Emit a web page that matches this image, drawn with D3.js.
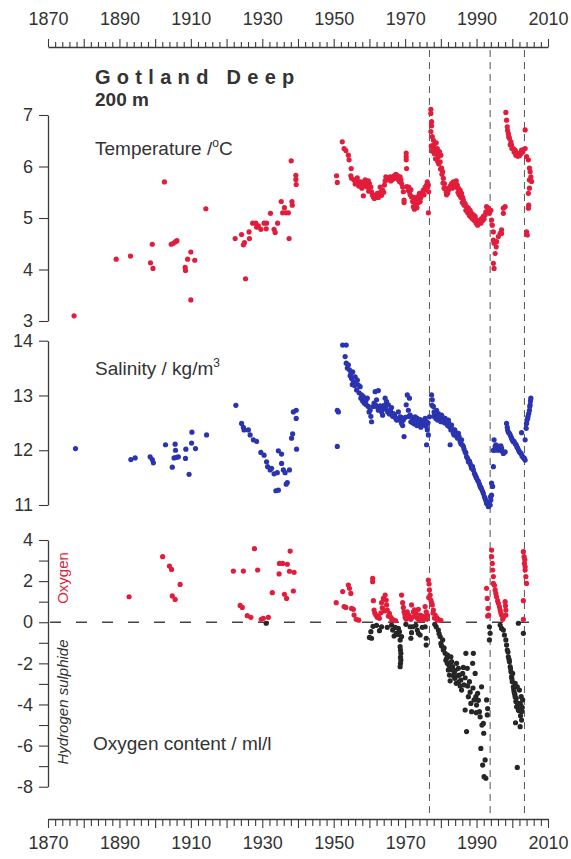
<!DOCTYPE html>
<html>
<head>
<meta charset="utf-8">
<script src="https://cdn.jsdelivr.net/npm/d3@7"></script>
<style>
    body { margin: 0; background: #fff; }
    svg text { font-family: 'Liberation Sans', Arial, sans-serif; fill: #333; }
</style>
</head>
<body>
<div id="viz"></div>
<script>
// [year, value]
const temperature = [
    [1877.3,3.10],[1889.1,4.20],[1893.1,4.26],[1898.7,4.13],[1899.2,4.49],[1899.4,4.02],[1902.6,5.70],[1904.5,4.49],
    [1905.1,4.51],[1905.7,4.54],[1906.1,4.56],[1908.4,4.04],[1908.5,3.98],[1909.1,4.20],[1910.0,4.34],[1911.1,4.18],
    [1910.0,3.41],[1914.2,5.18],[1922.4,4.60],[1924.2,4.68],[1924.7,4.48],[1925.0,4.52],[1925.3,3.82],[1926.3,4.73],
    [1926.4,4.60],[1927.3,4.90],[1928.2,4.90],[1928.4,4.82],[1928.9,4.85],[1929.6,4.78],[1930.5,4.90],[1931.2,4.90],
    [1931.1,4.79],[1932.3,5.09],[1933.3,4.78],[1933.6,4.72],[1934.3,4.90],[1935.3,5.32],[1935.7,5.10],[1936.2,5.20],
    [1936.6,5.10],[1937.3,5.10],[1937.5,4.60],[1938.1,6.11],[1938.3,5.32],[1938.4,5.25],[1939.4,5.83],[1939.4,5.75],
    [1939.5,5.65],
    [1950.8,5.82],[1951.0,5.69],[1952.4,6.48],[1952.9,6.35],[1953.4,6.31],[1954.1,6.22],[1954.3,6.13],[1954.9,5.96],
    [1954.8,5.82],[1955.0,5.77],[1955.7,5.74],[1956.4,5.72],[1956.9,5.70],[1957.6,5.70],[1958.0,5.67],[1958.3,5.62],
    [1958.8,5.74],[1959.1,5.64],[1959.4,5.60],[1960.0,5.67],[1960.4,5.60],[1960.6,5.51],[1961.1,5.41],[1961.4,5.38],
    [1958.3,5.43],[1961.8,5.45],[1962.2,5.48],[1962.8,5.48],[1963.2,5.51],[1963.7,5.54],[1964.2,5.64],[1964.4,5.72],
    [1964.8,5.77],[1965.3,5.75],[1965.6,5.79],[1966.0,5.72],[1966.5,5.75],[1966.9,5.82],[1967.4,5.85],[1967.6,5.77],
    [1968.1,5.75],[1968.4,5.71],[1968.8,5.74],[1969.0,5.67],[1969.3,5.60],[1969.5,5.51],[1969.7,5.35],[1969.7,5.30],
    [1956.0,5.66],[1957.0,5.62],[1957.9,5.58],[1959.8,5.52],[1960.8,5.45],[1961.6,5.40],[1962.5,5.40],[1963.4,5.44],
    [1964.0,5.50],[1956.6,5.78],[1958.5,5.70],[1959.7,5.72],[1963.0,5.60],[1964.6,5.80],[1965.9,5.80],[1967.0,5.78],
    [1967.9,5.82],[1968.6,5.80],
    [1970.3,6.26],[1970.3,6.19],[1970.3,6.13],[1970.4,5.96],[1970.4,5.61],[1970.9,5.54],[1971.2,5.51],[1971.4,5.45],
    [1971.8,5.41],[1972.1,5.32],[1972.3,5.22],[1972.6,5.17],[1973.0,5.25],[1973.2,5.35],[1973.5,5.41],[1974.0,5.48],
    [1974.2,5.32],[1974.6,5.45],[1975.1,5.54],[1975.6,5.60],[1976.0,5.64],[1976.2,5.70],[1976.5,5.64],[1976.5,5.10],
    [1976.6,5.51],[1971.0,5.60],[1971.6,5.55],[1972.4,5.40],[1972.9,5.30],[1973.3,5.20],[1973.8,5.30],[1974.4,5.40],
    [1974.9,5.50],[1975.3,5.45],[1975.8,5.55],[1976.3,5.60],
    [1977.2,7.11],[1977.2,7.03],[1977.4,6.87],[1977.4,6.79],[1977.2,6.68],[1977.6,6.58],[1977.9,6.51],[1978.1,6.42],
    [1978.4,6.32],[1978.7,6.46],[1978.8,6.26],[1979.0,6.35],[1979.3,6.19],[1979.6,6.29],[1979.8,6.09],[1980.0,6.22],
    [1980.2,5.97],[1980.5,5.90],[1980.7,5.77],[1981.0,5.67],[1981.2,5.58],[1981.5,5.51],[1981.6,5.45],[1982.1,5.54],
    [1977.3,6.40],[1977.5,6.30],[1977.8,6.35],[1978.2,6.25],[1978.5,6.15],[1979.1,6.10],[1979.4,6.05],[1979.9,5.95],
    [1980.3,5.85],[1980.6,5.68],[1980.9,5.58],
    [1982.6,5.61],[1983.0,5.67],[1983.5,5.70],[1983.9,5.67],[1984.3,5.72],[1984.6,5.64],[1984.9,5.58],[1985.4,5.54],
    [1985.8,5.48],[1986.1,5.40],[1986.3,5.35],[1986.8,5.28],[1987.2,5.22],[1987.7,5.19],[1988.2,5.15],[1988.6,5.09],
    [1989.1,5.06],[1989.6,5.03],[1990.0,4.96],[1990.5,4.90],[1991.0,4.96],[1991.4,4.99],[1991.9,5.03],[1992.4,5.06],
    [1981.9,5.48],[1982.3,5.58],[1982.8,5.64],[1983.2,5.58],[1983.7,5.62],[1984.1,5.60],[1984.8,5.50],[1985.1,5.45],
    [1985.6,5.40],[1986.0,5.30],[1986.5,5.25],[1987.0,5.15],[1987.5,5.10],[1988.0,5.05],[1988.4,5.02],[1988.9,4.98],
    [1989.4,4.95],[1989.9,4.90],[1990.3,4.86],[1990.8,4.92],[1991.2,4.90],[1991.7,4.95],[1992.1,4.98],[1992.6,5.12],
    [1992.8,5.22],[1993.3,5.19],[1993.6,5.09],[1994.0,5.15],[1994.2,4.96],[1994.4,4.86],[1994.7,4.73],[1994.7,4.57],
    [1994.9,4.51],[1994.7,4.12],[1994.9,4.02],[1995.2,4.31],[1995.5,4.44],[1995.6,4.54],[1996.1,4.64],[1996.6,4.70],
    [1997.0,4.77],[1997.0,4.70],[1997.5,5.09],[1998.0,5.22],[1997.5,5.19],
    [1998.2,7.05],[1998.4,6.90],[1998.6,6.77],[1998.9,6.64],[1999.2,6.55],[1999.6,6.48],[1999.8,6.42],[2000.3,6.35],
    [2000.8,6.32],[2001.2,6.27],[2001.7,6.24],[2002.2,6.26],[2002.6,6.32],[2003.1,6.33],[2003.6,6.71],[2003.6,6.35],
    [1998.7,6.70],[1999.0,6.58],[1999.4,6.42],[1999.9,6.35],[2000.5,6.28],[2001.0,6.22],[2001.5,6.20],[2002.0,6.21],
    [2002.4,6.25],[2002.9,6.28],
    [2004.0,6.19],[2004.5,6.13],[2004.8,5.97],[2005.0,5.90],[2005.2,5.80],[2005.4,5.71],[2004.8,5.74],[2004.5,5.48],
    [2004.6,5.25],[2004.5,5.19],[2004.0,4.73],[2004.2,4.67],[2004.8,5.58]
];

const salinity = [
    [1877.7,12.03],[1893.2,11.83],[1894.4,11.86],[1898.6,11.88],[1899.2,11.83],[1899.5,11.77],[1902.9,12.10],[1904.8,11.69],
    [1905.6,12.11],[1905.7,12.00],[1905.3,11.86],[1906.0,11.87],[1906.5,11.88],[1908.6,12.02],[1908.5,11.85],[1909.5,11.56],
    [1910.3,12.33],[1910.2,12.13],[1911.3,12.03],[1914.4,12.28],
    [1922.6,12.82],[1924.2,12.49],[1924.7,12.42],[1924.9,12.37],[1926.1,12.37],[1926.6,12.28],[1927.5,12.19],[1928.4,12.16],
    [1929.6,11.96],[1930.5,11.91],[1931.2,11.79],[1931.5,11.70],[1932.2,11.64],[1932.6,11.67],[1933.3,11.57],[1934.2,11.59],
    [1934.5,11.99],[1935.4,11.93],[1935.4,11.76],[1935.9,11.64],[1936.4,11.59],[1937.6,11.64],[1937.0,11.41],[1936.7,11.38],
    [1933.8,11.26],[1934.5,11.27],[1938.2,12.22],[1938.5,12.30],[1938.7,12.70],[1939.5,12.73],[1939.5,12.58],[1939.6,12.02],
    [1951.0,12.73],[1951.3,12.70],[1951.0,12.07],[1952.5,13.92],[1953.5,13.92],[1953.2,13.71],[1953.5,13.59],[1954.1,13.56],
    [1954.4,13.47],[1954.8,13.40],[1955.0,13.31],[1955.3,13.43],[1955.5,13.25],[1956.0,13.34],[1956.2,13.22],[1956.6,13.28],
    [1956.9,13.19],[1957.4,13.16],[1957.8,13.01],[1958.3,12.98],[1958.8,12.92],[1959.1,12.83],[1959.4,12.95],[1959.7,12.80],
    [1953.8,13.50],[1954.6,13.36],[1955.2,13.20],[1955.8,13.18],[1956.4,13.10],[1957.1,13.05],[1957.6,12.95],[1958.1,12.90],
    [1958.6,12.86],[1959.0,12.90],[1959.9,12.70],
    [1960.2,12.73],[1960.4,12.62],[1960.6,12.52],[1961.1,12.80],[1961.3,12.86],[1961.6,13.07],[1962.5,13.09],[1962.0,12.92],
    [1962.5,12.73],[1963.0,12.81],[1963.4,12.70],[1963.9,12.75],[1964.4,12.95],[1964.8,12.89],[1965.3,12.83],[1965.8,12.73],
    [1966.2,12.78],[1966.7,12.67],[1967.2,12.60],[1967.6,12.55],[1968.1,12.70],[1968.6,12.61],[1969.0,12.49],[1969.5,12.55],
    [1961.8,12.82],[1962.3,12.78],[1963.2,12.76],[1963.7,12.64],[1964.1,12.82],[1964.6,12.76],[1965.1,12.70],[1965.6,12.66],
    [1966.0,12.70],[1966.5,12.62],[1967.0,12.65],[1967.4,12.58],[1968.3,12.55],[1968.9,12.60],[1969.3,12.45],[1970.1,12.60],
    [1969.7,12.25],[1970.3,12.83],[1970.6,13.01],[1971.2,12.95],[1970.9,12.73],[1971.4,12.64],[1971.8,12.60],[1972.3,12.56],
    [1972.8,12.61],[1973.1,12.52],[1973.4,12.58],[1973.7,12.46],[1974.2,12.56],[1974.6,12.49],[1975.1,12.54],[1975.6,12.58],
    [1976.0,12.52],[1976.2,12.37],[1976.0,12.10],[1976.5,12.28],[1976.8,12.61],
    [1971.0,12.62],[1971.6,12.52],[1972.1,12.50],[1972.6,12.48],[1973.3,12.45],[1974.0,12.50],[1974.4,12.42],[1975.0,12.46],
    [1975.4,12.50],[1975.9,12.44],[1976.4,12.50],
    [1977.4,13.01],[1977.6,12.92],[1977.9,12.80],[1978.1,12.70],[1978.4,12.64],[1978.8,12.73],[1979.0,12.61],[1979.3,12.67],
    [1979.8,12.58],[1980.2,12.64],[1980.7,12.55],[1981.2,12.58],[1981.6,12.49],[1982.1,12.55],[1982.4,12.43],[1982.6,12.10],
    [1982.8,12.37],[1983.0,12.46],[1983.5,12.31],[1983.9,12.37],[1984.4,12.25],[1984.9,12.31],[1985.4,12.16],[1985.8,12.19],
    [1977.5,12.82],[1978.0,12.62],[1978.6,12.58],[1979.1,12.55],[1979.6,12.62],[1980.0,12.52],[1980.5,12.60],[1981.0,12.50],
    [1981.4,12.52],[1981.9,12.45],[1982.2,12.50],[1983.2,12.38],[1983.7,12.28],[1984.2,12.32],[1984.7,12.22],[1985.1,12.25],
    [1986.3,12.07],[1986.8,11.97],[1987.2,11.88],[1987.7,11.79],[1988.2,11.76],[1988.6,11.67],[1989.1,11.64],[1989.6,11.55],
    [1990.0,11.49],[1990.5,11.43],[1991.0,11.34],[1991.4,11.29],[1991.9,11.21],[1992.4,11.12],[1992.8,11.03],[1993.3,10.97],
    [1985.6,12.12],[1986.0,12.10],[1986.5,12.02],[1987.0,11.95],[1987.5,11.85],[1988.0,11.80],[1988.4,11.72],[1988.9,11.70],
    [1989.4,11.58],[1989.8,11.52],[1990.3,11.45],[1990.8,11.38],[1991.2,11.32],[1991.7,11.25],[1992.2,11.15],[1992.6,11.08],
    [1993.0,11.02],[1993.5,11.05],[1993.9,11.15],
    [1993.8,11.00],[1994.0,11.09],[1994.2,11.18],[1994.5,11.34],[1994.2,11.40],[1994.7,11.70],[1994.7,12.00],[1994.9,12.19],
    [1995.2,12.07],[1995.6,12.04],[1996.1,12.07],[1996.6,12.00],[1997.0,12.04],[1997.5,11.94],[1998.0,11.97],
    [1995.0,12.00],[1995.4,12.10],[1995.9,12.00],[1996.3,12.05],[1996.8,12.08],[1997.2,11.98],
    [1998.4,12.49],[1998.7,12.37],[1999.2,12.31],[1999.6,12.25],[2000.0,12.19],[2000.5,12.16],[2001.1,12.10],[2001.5,12.04],
    [2002.0,11.97],[2002.5,11.94],[2002.9,11.88],[2003.4,11.85],[2003.6,11.82],[2002.6,12.32],[2003.6,12.19],[2003.9,12.40],
    [1998.6,12.42],[1998.9,12.33],[1999.4,12.28],[1999.8,12.22],[2000.2,12.16],[2000.8,12.12],[2001.3,12.06],[2001.8,12.00],
    [2002.3,11.95],[2002.7,11.90],[2003.2,11.86],
    [2004.0,12.49],[2004.3,12.58],[2004.6,12.67],[2004.8,12.73],[2005.0,12.83],[2005.2,12.95],[2004.1,12.55],[2004.4,12.62],
    [2004.9,12.80],[2005.1,12.90]
];

const oxygen = [
    [1892.7,1.24],[1902.1,3.19],[1904.0,2.73],[1904.6,2.57],[1907.0,1.84],[1904.8,1.28],[1905.6,1.11],
    [1921.9,2.49],[1924.7,2.49],[1927.8,3.58],[1928.7,2.54],[1923.8,0.82],[1924.4,0.72],[1925.8,0.32],[1926.8,0.24],
    [1929.7,0.14],[1930.3,0.19],[1931.7,0.24],[1932.8,1.44],[1934.8,2.86],[1935.7,2.86],[1937.0,2.82],[1937.8,3.46],
    [1934.7,2.35],[1937.6,2.48],[1938.9,2.43],[1936.2,1.36],[1936.8,1.16],[1938.7,1.52],
    [1950.7,0.95],[1952.5,1.49],[1952.9,0.76],[1953.4,0.72],[1954.1,1.81],[1954.4,1.65],[1954.8,1.40],[1955.0,0.67],
    [1955.5,0.63],[1955.7,0.35],[1956.3,0.14],[1960.9,2.13],[1960.9,1.97],[1961.1,1.05],[1961.3,0.59],[1961.8,0.35],
    [1962.2,0.24],[1962.8,0.19],[1963.2,0.46],[1963.4,0.95],[1963.9,1.16],[1964.4,1.32],[1964.7,1.08],[1964.8,0.84],
    [1965.0,0.59],[1965.6,0.43],[1966.0,0.24],[1966.5,0.14],[1969.0,1.32],[1969.3,0.95],[1969.5,0.72],[1969.7,0.51],
    [1970.0,0.24],[1970.6,0.51],[1971.2,0.24],[1971.6,0.14],[1971.8,0.84],[1972.3,0.51],[1972.8,0.30],[1973.4,0.19],
    [1973.7,0.63],[1974.2,0.35],[1974.6,0.19],[1975.1,0.14],[1975.6,0.76],[1975.9,0.51],[1976.2,0.35],
    [1957.0,0.10],[1961.5,0.45],[1962.5,0.30],[1963.6,0.70],[1964.2,0.55],[1965.3,0.30],[1966.3,0.10],[1967.3,0.08],
    [1969.9,0.40],[1970.3,0.15],[1971.0,0.35],[1972.0,0.25],[1972.6,0.60],[1973.0,0.45],[1974.0,0.10],[1974.9,0.30],
    [1975.3,0.25],[1976.0,0.15],
    [1976.5,2.05],[1976.7,1.86],[1976.8,1.57],[1977.0,1.32],[1977.2,1.08],[1977.6,0.84],[1977.9,0.59],[1978.4,0.35],
    [1978.8,0.24],[1979.3,0.14],[1980.0,0.09],[1976.6,1.20],[1977.4,0.95],[1977.8,0.45],[1978.2,0.20],[1979.0,0.10],
    [1992.8,1.65],[1993.0,1.16],[1993.2,0.67],[1993.4,0.35],[1994.2,3.51],[1994.2,3.19],[1994.4,2.86],[1994.5,2.54],
    [1994.7,2.22],[1994.7,1.89],[1995.2,1.57],[1995.6,1.24],[1996.1,0.92],[1996.6,0.59],[1997.0,0.35],[1997.5,0.24],
    [1998.0,1.00],[1998.2,0.59],[1998.2,0.35],[1993.1,0.30],[1995.0,1.80],[1995.4,1.40],[1995.9,1.05],[1996.4,0.75],
    [1996.8,0.45],[1997.3,0.15],[1998.1,0.80],
    [2003.1,3.43],[2003.3,3.19],[2003.4,2.86],[2003.6,2.54],[2003.8,2.22],[2004.0,1.89],[2003.1,1.05],[2003.1,0.14],
    [2003.5,3.05],[2003.6,2.70]
];

const hydrogenSulphide = [
    [1931.1,-0.05],
    [1960.0,-0.74],[1960.6,-0.78],[1960.4,-0.46],[1962.8,-0.41],[1963.4,-0.22],[1966.2,-0.14],[1966.5,-0.38],[1966.9,-0.67],
    [1967.5,-0.54],[1968.1,-0.30],[1968.4,-0.46],[1968.6,-0.87],[1968.6,-1.19],[1968.8,-1.51],[1968.8,-1.84],[1968.6,-2.16],
    [1969.0,-0.70],[1971.4,-0.22],[1971.6,-0.78],[1971.8,-0.51],[1972.1,-0.22],[1973.4,-0.38],[1973.7,-0.54],[1974.2,-0.62],
    [1975.6,-0.22],[1975.9,-0.78],[1975.9,-1.11],
    [1961.0,-0.20],[1962.0,-0.15],[1965.0,-0.25],[1967.2,-0.25],[1968.0,-0.60],[1968.7,-1.35],[1968.7,-1.70],[1968.7,-2.00],
    [1970.2,-0.10],[1973.0,-0.15],[1974.8,-0.25],[1978.3,-0.10],
    [1978.7,-0.22],[1979.3,-0.38],[1979.8,-0.70],[1980.0,-1.03],[1980.5,-0.86],[1980.7,-1.35],[1981.2,-1.51],[1981.6,-1.76],
    [1981.8,-2.00],[1982.1,-2.32],[1982.4,-2.57],[1982.8,-1.68],[1983.0,-1.92],[1983.3,-2.16],[1983.7,-2.41],[1983.9,-2.73],
    [1984.3,-2.97],[1984.4,-2.00],[1984.9,-2.24],[1985.2,-2.57],[1985.6,-2.81],[1985.8,-3.30],[1986.1,-2.49],[1986.5,-3.05],
    [1986.8,-4.27],[1987.0,-1.51],[1987.2,-5.32],[1987.4,-2.24],[1987.7,-3.62],[1988.0,-2.89],[1988.4,-3.95],[1988.6,-4.35],
    [1988.9,-2.00],[1989.1,-1.51],[1989.3,-3.78],[1989.6,-2.49],[1989.8,-3.62],[1990.0,-4.03],[1990.3,-3.46],[1990.8,-4.35],
    [1991.2,-6.14],[1991.4,-3.14],[1991.7,-6.95],[1991.9,-4.92],[1992.1,-7.51],[1992.4,-6.70],[1992.6,-7.59],[1992.8,-3.78],
    [1993.0,-4.51],[1993.6,-0.22],[1993.8,-0.54],[1993.6,-0.86],
    [1979.5,-0.55],[1980.2,-1.15],[1980.9,-1.25],[1981.4,-1.85],[1981.9,-1.60],[1982.3,-2.10],[1982.6,-2.85],[1983.1,-2.30],
    [1983.5,-2.60],[1984.0,-2.35],[1984.6,-2.60],[1985.0,-2.90],[1985.4,-3.10],[1986.3,-2.20],[1986.8,-2.70],[1987.5,-3.10],
    [1988.2,-3.40],[1989.0,-3.20],[1989.9,-4.40],[1990.5,-3.80],[1991.0,-4.60],[1991.5,-5.00],[1992.0,-5.40],[1993.1,-4.20],
    [1996.6,-0.14],[1997.0,-0.30],[1997.5,-0.38],[1997.8,-0.62],[1998.2,-0.86],[1998.4,-1.11],[1998.6,-1.35],[1998.9,-1.68],
    [1999.2,-1.92],[1999.4,-2.16],[1999.6,-2.41],[1999.8,-2.65],[2000.0,-2.89],[2000.3,-3.14],[2000.5,-3.38],[2000.8,-3.62],
    [2001.0,-3.86],[2001.2,-4.11],[2001.7,-4.27],[2002.2,-3.95],[2002.5,-3.62],[2002.6,-4.35],[2002.9,-3.78],[2002.6,-4.76],
    [2002.2,-5.08],[2000.9,-4.89],[2001.4,-7.06],[2000.1,-2.49],[2000.8,-2.97],[2001.4,-3.14],[2002.0,-3.30],[2003.1,-0.54],
    [2001.7,-0.05],
    [1998.8,-1.45],[1999.1,-1.80],[1999.5,-2.25],[1999.9,-2.75],[2000.4,-3.25],[2000.7,-3.50],[2001.1,-3.70],[2001.5,-3.95],
    [2001.9,-4.30],[2002.3,-4.55],[2002.8,-4.15],[2002.4,-4.05]
];

const inflowYears = [1976.8, 1993.8, 2003.4];
const yearLabels = [1870, 1890, 1910, 1930, 1950, 1970, 1990, 2010];
const tempTicks = [3, 4, 5, 6, 7];
const salTicks = [11, 12, 13, 14];
const oxTicks = [-8, -7, -6, -5, -4, -3, -2, -1, 0, 1, 2, 3, 4];

const width = 571, height = 859;
const red = '#e21d3c', blue = '#2a34b0', black = '#262626', ink = '#3a3a3a';

const svg = d3.select('#viz').append('svg')
    .attr('width', width)
    .attr('height', height);

const x = d3.scaleLinear().domain([1870, 2010]).range([48, 548]);
const yT = d3.scaleLinear().domain([3, 7]).range([321, 115]);
const yS = d3.scaleLinear().domain([11, 14]).range([505, 340.7]);
const yO = d3.scaleLinear().domain([-8, 4]).range([786.7, 540]);

const yearTicks = d3.range(1870, 2011, 2);

function styleAxis(g) {
    g.select('.domain').attr('stroke', ink).attr('stroke-width', 1.3);
    g.selectAll('.tick line').attr('stroke', ink).attr('stroke-width', 1.1);
    g.selectAll('.tick text').attr('font-size', 18).attr('fill', ink);
}

// top year axis
const topAxis = svg.append('g')
    .attr('transform', 'translate(0,47)')
    .call(d3.axisTop(x).tickValues(yearTicks).tickSizeOuter(0)
        .tickFormat(function(d) { return yearLabels.includes(d) ? d : ''; }))
    .call(styleAxis);
topAxis.selectAll('.tick line').attr('y2', function(d) { return d % 10 === 0 ? -8 : -5; });
topAxis.selectAll('.tick text').attr('y', -22);

// bottom year axis
const bottomAxis = svg.append('g')
    .attr('transform', 'translate(0,819)')
    .call(d3.axisBottom(x).tickValues(yearTicks).tickSizeOuter(0)
        .tickFormat(function(d) { return yearLabels.includes(d) ? d : ''; }))
    .call(styleAxis);
bottomAxis.selectAll('.tick line').attr('y2', function(d) { return d % 10 === 0 ? 9 : 7; });
bottomAxis.selectAll('.tick text').attr('y', 17);

// left axes
svg.append('g').attr('transform', 'translate(48,0)')
    .call(d3.axisLeft(yT).tickValues(tempTicks).tickSize(9).tickSizeOuter(0).tickPadding(6)
        .tickFormat(d3.format('d')))
    .call(styleAxis);
svg.append('g').attr('transform', 'translate(48,0)')
    .call(d3.axisLeft(yS).tickValues(salTicks).tickSize(9).tickSizeOuter(0).tickPadding(6)
        .tickFormat(d3.format('d')))
    .call(styleAxis);
svg.append('g').attr('transform', 'translate(48,0)')
    .call(d3.axisLeft(yO).tickValues(oxTicks).tickSize(9).tickSizeOuter(0).tickPadding(6)
        .tickFormat(function(d) { return d % 2 === 0 ? d : ''; }))
    .call(styleAxis);

// inflow markers
svg.append('g').selectAll('line')
    .data(inflowYears)
    .enter().append('line')
    .attr('x1', function(d) { return x(d); })
    .attr('x2', function(d) { return x(d); })
    .attr('y1', 50)
    .attr('y2', 816)
    .attr('stroke', '#555')
    .attr('stroke-width', 1)
    .attr('stroke-dasharray', '7,5');

// zero line
svg.append('line')
    .attr('x1', x(1870) + 2).attr('x2', 540)
    .attr('y1', yO(0)).attr('y2', yO(0))
    .attr('stroke', '#444')
    .attr('stroke-width', 1.4)
    .attr('stroke-dasharray', '11,15');

function dots(data, y, color) {
    svg.append('g').selectAll('circle')
        .data(data)
        .enter().append('circle')
        .attr('cx', function(d) { return x(d[0]); })
        .attr('cy', function(d) { return y(d[1]); })
        .attr('r', 2.6)
        .attr('fill', color);
}

dots(temperature, yT, red);
dots(salinity, yS, blue);
dots(hydrogenSulphide, yO, black);
dots(oxygen, yO, red);

// titles and labels
svg.append('text').attr('x', 95).attr('y', 84)
    .attr('font-size', 20).attr('font-weight', 'bold').attr('letter-spacing', 6.3)
    .text('Gotland Deep');
svg.append('text').attr('x', 95).attr('y', 106)
    .attr('font-size', 19).attr('font-weight', 'bold')
    .text('200 m');

const tLabel = svg.append('text').attr('x', 95).attr('y', 155).attr('font-size', 19);
tLabel.append('tspan').text('Temperature /');
tLabel.append('tspan').attr('font-size', 12).attr('dy', -8).text('o');
tLabel.append('tspan').attr('dy', 8).text('C');

const sLabel = svg.append('text').attr('x', 95).attr('y', 375).attr('font-size', 19);
sLabel.append('tspan').text('Salinity / kg/m');
sLabel.append('tspan').attr('font-size', 12).attr('dy', -8).text('3');

svg.append('text').attr('x', 93).attr('y', 750).attr('font-size', 19)
    .text('Oxygen content / ml/l');

svg.append('text')
    .attr('transform', 'translate(68,578) rotate(-90)')
    .attr('text-anchor', 'middle')
    .attr('font-size', 15)
    .style('fill', red)
    .text('Oxygen');

svg.append('text')
    .attr('transform', 'translate(68,702) rotate(-90)')
    .attr('text-anchor', 'middle')
    .attr('font-size', 15)
    .attr('font-style', 'italic')
    .text('Hydrogen sulphide');
</script>
</body>
</html>
